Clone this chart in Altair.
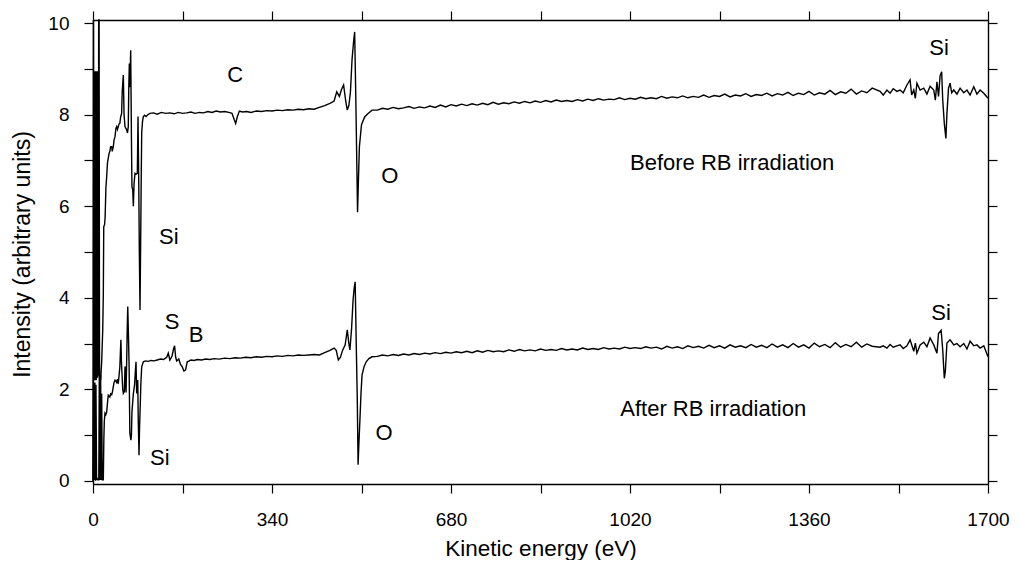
import altair as alt
import pandas as pd

# ---------------- data ----------------
E_before = [0, 0.8, 1.6, 2.2, 2.8, 3.4, 4.0, 4.6, 5.2, 5.8, 6.4, 7.0, 7.6, 8.2, 8.8, 9.4, 10.0, 10.8, 11.6, 12.4,
            14.5, 16.5, 18.5, 19.6, 20.4, 22.0, 23.0, 24.5, 26.0, 27.5, 29.0, 30.5, 32.0, 33.5, 35.5, 36.5, 38.6,
            40.0, 41.8, 43.5, 45.0, 46.5, 48.0, 49.5, 51.0, 52.5, 54.4, 55.5, 57.6, 59.0, 60.8, 62.5, 64.0, 65.5,
            67.0, 68.0, 69.0, 70.0, 71.6, 73.0, 74.0, 75.5, 76.6, 78.0, 79.8, 82.0, 84.2, 85.5, 87.0, 88.0, 89.3,
            90.5, 91.5, 92.5, 94.0, 95.6, 98.0, 100.7, 104, 108.3,
            115, 122, 130, 138, 146, 154, 162, 170, 178, 186, 194, 202, 210, 218, 226, 234, 242, 250, 258, 264,
            268, 271, 274, 278, 284, 292, 300, 310, 320, 330, 340, 350, 360, 370, 380, 390, 400, 410, 420, 430,
            440, 450, 458, 463, 468, 472, 476, 480, 483, 486, 489, 492, 495, 497, 499, 501, 502.5, 504, 506, 510,
            516, 522, 530,
            540, 550, 560, 570, 580, 590, 600, 610, 620, 630, 640, 650, 660, 670, 680, 690, 700, 710, 720, 730,
            740, 750, 760, 770, 780, 790, 800, 810, 820, 830, 840, 850, 860, 870, 880, 890, 900, 910, 920, 930,
            940, 950, 960, 970, 980, 990, 1000, 1010, 1020, 1030, 1040, 1050, 1060, 1070, 1080, 1090, 1100, 1110,
            1120, 1130, 1140, 1150, 1160, 1170, 1180, 1190, 1200, 1210, 1220, 1230, 1240, 1250, 1260, 1270, 1280,
            1290, 1300, 1310, 1320, 1330, 1340, 1350, 1360, 1370, 1380, 1390, 1400, 1410, 1420, 1430, 1440, 1450,
            1460, 1470, 1480,
            1495, 1501, 1508, 1514, 1520, 1527, 1533, 1539, 1546, 1552, 1555, 1559, 1562, 1565, 1571, 1578, 1584,
            1590, 1597, 1600, 1603, 1606, 1609, 1612, 1614, 1617, 1620, 1622, 1625, 1628, 1631, 1635, 1641, 1647,
            1654, 1660, 1666, 1673, 1679, 1685, 1692, 1700]
V_before = [0.0, 10.07, 2.2, 8.95, 2.25, 8.95, 2.2, 8.95, 2.25, 8.9, 2.2, 8.95, 2.3, 8.9, 2.25, 8.95, 2.3, 10.07, 10.07, 2.3,
            2.2, 2.6, 3.3, 4.1, 5.55, 5.6, 5.75, 6.4, 6.65, 6.95, 7.05, 7.15, 7.2, 7.3, 7.3, 7.2, 7.3,
            7.45, 7.52, 7.7, 7.74, 7.68, 7.74, 7.8, 7.81, 7.95, 8.03, 8.5, 8.87, 8.0, 7.74, 7.7, 7.67, 7.6,
            7.74, 8.6, 9.12, 8.6, 9.41, 7.5, 6.43, 6.35, 6.0, 6.5, 6.72, 6.7, 6.72, 7.96, 6.4, 5.0, 3.73,
            5.2, 6.5, 7.6, 7.85, 7.96, 7.99, 7.96, 8.0, 8.03,
            8.04, 8.01, 8.05, 8.03, 8.04, 8.02, 8.05, 8.03, 8.04, 8.06, 8.03, 8.05, 8.04, 8.07, 8.05, 8.08, 8.06, 8.07, 8.05, 8.03,
            7.9, 7.81, 7.95, 8.08, 8.06, 8.07, 8.05, 8.08, 8.07, 8.09, 8.08, 8.1, 8.09, 8.11, 8.1, 8.12, 8.11, 8.13, 8.12, 8.16,
            8.2, 8.25, 8.3, 8.5, 8.4, 8.55, 8.65, 8.3, 8.1, 8.2, 8.5, 9.2, 9.6, 9.81, 8.5, 7.0, 5.87, 6.5, 7.3, 7.78,
            7.95, 8.02, 8.1,
            8.10, 8.14, 8.12, 8.16, 8.13, 8.15, 8.18, 8.14, 8.17, 8.15, 8.19, 8.16, 8.21, 8.17, 8.22, 8.19, 8.23, 8.20, 8.24, 8.21,
            8.25, 8.22, 8.27, 8.23, 8.26, 8.24, 8.28, 8.25, 8.29, 8.26, 8.30, 8.27, 8.31, 8.28, 8.32, 8.29, 8.31, 8.29, 8.33, 8.30,
            8.34, 8.31, 8.35, 8.32, 8.34, 8.33, 8.37, 8.33, 8.36, 8.34, 8.38, 8.35, 8.37, 8.35, 8.40, 8.36, 8.39, 8.37,
            8.41, 8.37, 8.40, 8.38, 8.43, 8.38, 8.42, 8.40, 8.45, 8.39, 8.43, 8.41, 8.46, 8.40, 8.44, 8.42, 8.47,
            8.41, 8.46, 8.43, 8.49, 8.42, 8.47, 8.44, 8.51, 8.43, 8.48, 8.45, 8.53, 8.44, 8.50, 8.47, 8.56, 8.45,
            8.52, 8.48, 8.58,
            8.51, 8.43, 8.54, 8.47, 8.57, 8.51, 8.54, 8.48, 8.65, 8.76, 8.43, 8.54, 8.36, 8.69, 8.54, 8.58, 8.45,
            8.62, 8.54, 8.32, 8.72, 8.40, 8.85, 8.94, 8.32, 7.81, 7.48, 8.03, 8.58, 8.69, 8.48, 8.54, 8.45, 8.58,
            8.48, 8.54, 8.43, 8.61, 8.45, 8.54, 8.47, 8.36]

E_after = [0, 1.2, 2.4, 3.6, 4.6, 5.6, 6.8, 8.0, 9.5, 11.0, 12.0, 13.0, 14.5, 15.5, 16.5, 17.5, 19.6, 20.6, 21.5, 22.8,
           24.5, 26.0, 27.5, 29.0, 30.5, 32.0, 33.5, 35.5, 37.0, 38.6, 40.0, 41.8, 43.5, 45.0, 46.5, 48.0, 49.5,
           51.0, 52.0, 53.0, 54.0, 55.0, 56.5, 57.6, 59.5, 60.8, 61.8, 62.8, 64.0, 65.0, 66.0, 67.3, 68.6, 70.0,
           72.0, 73.0, 74.0, 76.6, 79.0, 80.5, 81.7, 83.0, 85.0, 86.0, 87.4, 88.5, 89.3, 91.0, 92.5, 95.6, 100,
           105, 110, 116, 122, 128, 134, 140, 143, 146, 150, 153, 155, 157, 159, 163, 166, 169.5, 172.6, 175.7,
           179, 183, 186, 192, 198, 206, 214, 222, 230, 240, 250, 260, 270, 280, 290, 300, 310, 320, 330, 340,
           350, 360, 370, 380, 390, 400, 410, 420, 430, 440, 450, 458, 462, 466, 470, 474, 479, 483, 486, 488,
           491, 494, 496, 498, 500, 502, 503.5, 505, 507, 509, 511, 515, 519, 524, 530,
           540, 550, 560, 570, 580, 590, 600, 610, 620, 630, 640, 650, 660, 670, 680, 690, 700, 710, 720, 730,
           740, 750, 760, 770, 780, 790, 800, 810, 820, 830, 840, 850, 860, 870, 880, 890, 900, 910, 920, 930,
           940, 950, 960, 970, 980, 990, 1000, 1010, 1020, 1030, 1040, 1050, 1060, 1070, 1080, 1090, 1100, 1110,
           1120, 1130, 1140, 1150, 1160, 1170, 1180, 1190, 1200, 1210, 1220, 1230, 1240, 1250, 1260, 1270, 1280,
           1290, 1300, 1310, 1320, 1330, 1340, 1350, 1360, 1370, 1380, 1390, 1400, 1410, 1420, 1430, 1440, 1450,
           1460, 1470, 1480,
           1495, 1501, 1508, 1514, 1520, 1527, 1533, 1539, 1546, 1552, 1559, 1562, 1565, 1571, 1578, 1584, 1590,
           1597, 1603, 1606, 1611, 1614, 1617, 1619, 1622, 1628, 1635, 1641, 1647, 1654, 1660, 1666, 1673, 1679,
           1685, 1692, 1700]
V_after = [0.0, 2.13, 0.02, 2.15, 0.0, 2.1, 0.02, 0.05, 0.02, 0.02, 2.5, 0.02, 2.3, 0.02, 1.9, 0.02, 0.02, 0.9, 1.3, 1.48,
           1.45, 1.5, 1.7, 1.87, 1.85, 1.83, 1.9, 1.88, 1.95, 2.06, 2.15, 2.2, 2.18, 2.15, 2.22, 2.12, 2.3,
           2.49, 2.8, 3.08, 2.6, 2.36, 2.0, 1.91, 1.95, 2.5, 2.2, 1.93, 2.64, 3.3, 3.81, 3.2, 2.49, 1.04,
           0.89, 1.0, 1.5, 1.9, 2.1, 2.4, 2.6, 1.91, 2.2, 1.3, 0.56, 1.2, 1.48, 2.15, 2.49, 2.6, 2.62,
           2.61, 2.63, 2.62, 2.64, 2.66, 2.65, 2.7, 2.79, 2.64, 2.72, 2.88, 2.95, 2.7, 2.62, 2.66, 2.55, 2.49, 2.4, 2.42,
           2.6, 2.62, 2.64, 2.63, 2.65, 2.64, 2.66, 2.65, 2.67, 2.66, 2.68, 2.67, 2.69, 2.68, 2.7, 2.69, 2.71, 2.7, 2.72, 2.71,
           2.73, 2.72, 2.74, 2.73, 2.75, 2.74, 2.75, 2.76, 2.75, 2.8, 2.85, 2.9, 2.85, 2.64, 2.7, 2.85, 2.97, 3.30, 3.0, 2.86,
           3.3, 3.95, 4.2, 4.35, 3.0, 1.77, 0.35, 0.8, 1.33, 1.9, 2.31, 2.5, 2.6, 2.67, 2.71,
           2.72, 2.75, 2.73, 2.76, 2.74, 2.77, 2.75, 2.78, 2.76, 2.79, 2.77, 2.80, 2.78, 2.81, 2.79, 2.82, 2.80, 2.83, 2.80, 2.84,
           2.81, 2.85, 2.82, 2.84, 2.82, 2.86, 2.83, 2.87, 2.84, 2.86, 2.84, 2.88, 2.85, 2.87, 2.85, 2.89, 2.86, 2.88, 2.86, 2.90,
           2.87, 2.89, 2.87, 2.91, 2.88, 2.90, 2.88, 2.92, 2.89, 2.91, 2.89, 2.93, 2.90, 2.92, 2.88, 2.94, 2.90, 2.93,
           2.89, 2.95, 2.91, 2.94, 2.90, 2.96, 2.91, 2.95, 2.90, 2.97, 2.92, 2.95, 2.91, 2.98, 2.92, 2.96, 2.91,
           2.99, 2.92, 2.97, 2.91, 3.00, 2.92, 2.97, 2.90, 3.01, 2.93, 2.98, 2.91, 3.02, 2.92, 2.98, 2.93, 3.03,
           2.92, 2.99, 2.94,
           2.92, 2.95, 2.90, 2.98, 2.92, 2.95, 2.97, 2.89, 2.95, 3.08, 2.83, 3.01, 2.79, 2.97, 3.03, 2.93, 3.12,
           2.97, 2.79, 3.22, 3.29, 2.86, 2.24, 2.40, 3.01, 3.08, 2.97, 3.00, 2.93, 3.00, 2.88, 3.05, 2.95, 2.97,
           2.90, 2.95, 2.71]

labels_text = ["C", "Si", "O", "Before RB irradiation", "Si", "S", "B", "Si", "After RB irradiation", "O", "Si"]
labels_E = [270, 144, 564, 1214, 1607, 150, 196, 1611, 1178, 553, 127]
labels_V = [8.87, 5.32, 6.66, 6.94, 9.46, 3.47, 3.19, 3.66, 1.57, 1.04, 0.5]

x_ticks = [0, 170, 340, 510, 680, 850, 1020, 1190, 1360, 1530, 1700]
y_ticks = [0, 1, 2, 3, 4, 5, 6, 7, 8, 9, 10]

# ---------------- build tables ----------------
df = pd.concat([
    pd.DataFrame({"E": E_before, "V": V_before, "series": "before", "i": range(len(E_before))}),
    pd.DataFrame({"E": E_after, "V": V_after, "series": "after", "i": range(len(E_after))}),
])
lab = pd.DataFrame({"E": labels_E, "V": labels_V, "t": labels_text})

FONT = "Liberation Sans"
XDOM = [0, 1700]
YDOM = [-0.07, 10.07]

common_axis = dict(domainColor="black", domainWidth=1.4, tickColor="black", tickWidth=1.2,
                   tickSize=9, grid=False, labelColor="black", titleColor="black",
                   labelFont=FONT, titleFont=FONT, labelFontSize=19,
                   titleFontWeight="normal")

x_main = alt.X("E:Q", scale=alt.Scale(domain=XDOM, nice=False, zero=False),
               axis=alt.Axis(values=x_ticks, format="d", title="Kinetic energy (eV)",
                             labelExpr="datum.value % 340 == 0 ? datum.label : ''",
                             labelPadding=17, titlePadding=8, labelFlush=False,
                             titleFontSize=22.5, **common_axis))
y_main = alt.Y("V:Q", scale=alt.Scale(domain=YDOM, nice=False, zero=False),
               axis=alt.Axis(values=y_ticks, format="d", title="Intensity (arbitrary units)",
                             labelExpr="datum.value % 2 == 0 ? datum.label : ''",
                             labelPadding=15, titleX=-71, titleY=234, titleAngle=270,
                             titleAlign="center", titleBaseline="middle", labelFlush=False,
                             titleFontSize=23, **common_axis))

lines = alt.Chart(df).mark_line(color="black", strokeWidth=1.4).encode(
    x=x_main, y=y_main, detail="series:N", order="i:Q")

texts = alt.Chart(lab).mark_text(font=FONT, fontSize=22, color="black",
                                 align="center", baseline="middle").encode(
    x=alt.X("E:Q", scale=alt.Scale(domain=XDOM, nice=False, zero=False), axis=None),
    y=alt.Y("V:Q", scale=alt.Scale(domain=YDOM, nice=False, zero=False), axis=None),
    text="t:N")

ghost = alt.Chart(df).mark_line(opacity=0).encode(
    x=alt.X("E:Q", scale=alt.Scale(domain=XDOM, nice=False, zero=False),
            axis=alt.Axis(orient="top", values=x_ticks, labels=False, title=None, **common_axis)),
    y=alt.Y("V:Q", scale=alt.Scale(domain=YDOM, nice=False, zero=False),
            axis=alt.Axis(orient="right", values=y_ticks, labels=False, title=None, **common_axis)),
    detail="series:N")

chart = alt.layer(lines, texts, ghost).resolve_scale(
    x="independent", y="independent"
).properties(
    width=895, height=464,
    autosize=alt.AutoSizeParams(type="none"),
    padding={"left": 85, "top": 12, "right": 24, "bottom": 76},
).configure_view(stroke=None).configure(background="white")

chart.save("out.html", embed_options={"renderer": "svg", "actions": False})
